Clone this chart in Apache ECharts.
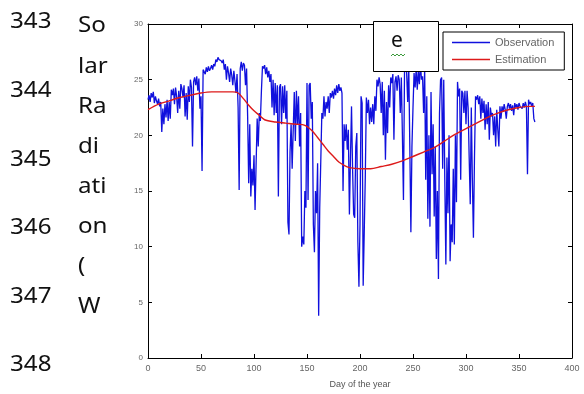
<!DOCTYPE html>
<html>
<head>
<meta charset="utf-8">
<script src="https://cdn.jsdelivr.net/npm/echarts@6/dist/echarts.min.js"></script>
<style>
  html, body { margin: 0; padding: 0; background: #fff; }
  #chart { width: 584px; height: 394px; }
</style>
</head>
<body>
<div id="chart"></div>
<script>
// daily observed solar radiation, index = day of the year (0..365)
const obsValues = [
  23.2, 23.6, 23.0, 23.8, 23.4, 23.9, 22.9, 23.5, 23.1, 22.8,
  23.3, 22.6, 23.0, 20.3, 22.4, 21.0, 22.8, 21.6, 23.2, 21.3,
  23.0, 21.5, 24.1, 23.6, 24.2, 22.8, 24.3, 23.5, 22.0, 24.0,
  22.4, 24.6, 24.2, 23.4, 24.5, 21.7, 23.8, 21.4, 24.4, 23.0,
  25.0, 24.3, 19.0, 24.8, 25.2, 24.5, 25.3, 24.0, 25.1, 22.4,
  23.5, 16.8, 25.9, 26.0, 25.5, 26.1, 25.7, 26.2, 25.8, 26.0,
  26.3, 25.9, 26.4, 26.2, 26.8, 26.6, 27.0, 26.8, 26.9, 26.7,
  26.5, 26.8, 25.9, 26.4, 25.0, 26.2, 25.6, 24.8, 26.0, 25.4,
  24.5, 25.8, 24.9, 23.8, 25.5, 22.5, 15.1, 26.0, 26.6, 25.8,
  26.5, 26.3, 24.5, 26.0, 21.7, 15.7, 21.0, 14.5, 17.0, 15.5,
  18.2, 13.3, 17.5, 21.5, 19.0, 22.0, 21.3, 24.0, 26.2, 26.0,
  26.3, 25.5, 26.1, 25.2, 25.8, 24.8, 25.5, 22.5, 25.0, 21.8,
  24.7, 22.0, 24.5, 14.5, 24.3, 24.6, 21.0, 24.4, 22.0, 24.5,
  21.5, 24.0, 12.2, 11.1, 18.5, 21.0, 17.0, 20.5, 23.9, 19.5,
  24.0, 21.0, 23.5, 19.0, 22.0, 10.0, 10.9, 10.2, 15.0, 13.5,
  24.7, 14.2, 24.5, 24.7, 21.5, 23.0, 12.0, 9.5, 15.0, 13.0,
  17.5, 3.8, 13.5, 17.7, 22.0, 21.5, 23.5, 21.7, 23.0, 22.4,
  23.5, 22.0, 23.8, 23.4, 24.0, 23.3, 24.2, 23.6, 24.5, 23.8,
  24.6, 24.0, 24.3, 23.8, 15.0, 21.0, 19.5, 21.0, 18.7, 20.5,
  12.9, 18.0, 22.6, 17.0, 12.9, 12.6, 19.0, 20.2, 10.4, 6.4,
  12.0, 23.5, 22.9, 6.5, 11.3, 16.3, 23.4, 22.0, 23.2, 21.0,
  22.5, 21.2, 22.8, 21.0, 23.5, 22.2, 25.0, 24.4, 25.2, 24.6,
  22.0, 24.8, 20.0, 24.0, 17.8, 23.0, 20.2, 24.5, 22.5, 25.2,
  24.7, 25.5, 19.6, 24.8, 25.3, 24.0, 25.4, 25.0, 22.0, 25.2,
  20.0, 14.2, 25.8, 26.5, 25.6, 23.0, 26.2, 19.0, 11.3, 19.0,
  22.5, 25.6, 24.3, 26.0, 24.1, 25.8, 24.6, 26.5, 25.0, 25.3,
  22.0, 26.0, 16.0, 23.5, 12.5, 20.0, 11.8, 23.9, 16.5, 21.0,
  12.7, 19.0, 8.9, 15.0, 7.1, 22.0, 25.0, 25.2, 17.0, 25.0,
  16.0, 8.4, 18.0, 13.0, 20.0, 8.7, 12.0, 10.4, 17.0, 10.2,
  20.0, 14.0, 24.8, 23.5, 24.2, 16.0, 24.0, 23.8, 22.0, 24.0,
  21.0, 24.0, 22.5, 18.0, 13.8, 22.5, 16.0, 10.8, 18.0, 23.5,
  23.2, 23.6, 22.8, 23.5, 21.5, 23.3, 22.0, 23.1, 20.5, 22.8,
  21.0, 23.0, 19.6, 22.5, 21.7, 22.0, 20.0, 21.7, 19.0, 22.3,
  20.5, 19.0, 22.6, 21.5, 22.6, 22.1, 22.8, 22.3, 21.5, 22.6,
  22.9, 22.4, 22.8, 22.2, 22.7, 21.8, 22.9, 22.5, 22.8, 22.3,
  22.9, 22.6, 22.7, 22.4, 22.9, 22.5, 23.0, 22.6, 16.5, 23.2,
  22.8, 23.0, 22.6, 22.9, 21.5, 21.2
];

// estimated curve
const estDays = [0, 10, 20, 30, 40, 50, 60, 70, 80, 85, 90, 95, 100, 105, 110, 120, 130, 140, 148, 155,
  160, 165, 170, 175, 180, 185, 190, 200, 210, 220, 230, 240, 250, 260, 270, 280, 290, 300, 310, 320,
  330, 340, 350, 360, 365];
const estValues = [22.3, 22.8, 23.1, 23.4, 23.6, 23.8, 23.9, 23.9, 23.9, 23.8, 23.3, 22.7, 22.2, 21.8, 21.4, 21.2, 21.1, 21.0, 20.9, 20.4,
  19.8, 19.2, 18.6, 18.1, 17.6, 17.3, 17.1, 17.0, 17.0, 17.2, 17.4, 17.7, 18.1, 18.5, 18.9, 19.5, 20.1, 20.6, 21.1, 21.6,
  22.0, 22.3, 22.5, 22.6, 22.6];

const lineNumbers = ['343', '344', '345', '346', '347', '348'];
const sideWords = ['So', 'lar', 'Ra', 'di', 'ati', 'on', '(', 'W'];

const obsColor = '#1010dd';
const estColor = '#dd1a1a';

const chart = echarts.init(document.getElementById('chart'));

const axisFont = { color: '#666', fontFamily: 'Liberation Sans', fontSize: 8 };
const frame = { onZero: false, lineStyle: { color: '#000', width: 1 } };
const ticks = { inside: true, length: 4, lineStyle: { color: '#000' } };

const graphics = [];
lineNumbers.forEach((t, i) => {
  graphics.push({ type: 'text', x: 10, y: 12 + i * 68.6, scaleX: 1.15,
    style: { text: t, font: '21px "Noto Sans"', fill: '#111' } });
});
sideWords.forEach((t, i) => {
  graphics.push({ type: 'text', x: 78, y: 16 + i * 40.1, scaleX: 1.15,
    style: { text: t, font: '21px "Noto Sans"', fill: '#111' } });
});
// the "e" label box
graphics.push({ type: 'rect', z: 100, shape: { x: 373.5, y: 21.5, width: 65, height: 50 },
  style: { fill: '#fff', stroke: '#000', lineWidth: 1 } });
graphics.push({ type: 'text', z: 101, x: 391, y: 31,
  style: { text: 'e', font: '21px "Noto Sans"', fill: '#111' } });
graphics.push({ type: 'polyline', z: 101,
  shape: { points: [[391, 56], [393, 54], [395, 56], [397, 54], [399, 56], [401, 54], [403, 56], [405, 54]] },
  style: { stroke: '#3a9a3a', lineWidth: 1, fill: null } });

chart.setOption({
  animation: false,
  backgroundColor: '#fff',
  grid: { left: 148, right: 12, top: 24, bottom: 35 },
  legend: {
    orient: 'vertical', left: 443, top: 32, z: 110,
    backgroundColor: '#fff', borderColor: '#000', borderWidth: 1, borderRadius: 0,
    padding: [5, 10, 5, 9], itemGap: 6, itemWidth: 38, itemHeight: 1.6,
    icon: 'rect',
    textStyle: { color: '#666', fontFamily: 'Liberation Sans', fontSize: 11 },
    data: ['Observation', 'Estimation']
  },
  xAxis: [{
    type: 'value', min: 0, max: 400, interval: 50,
    name: 'Day of the year', nameLocation: 'middle', nameGap: 22,
    nameTextStyle: { color: '#555', fontFamily: 'Liberation Sans', fontSize: 9 },
    axisLine: frame, axisTick: ticks,
    axisLabel: Object.assign({ margin: 6 }, axisFont, { fontSize: 9 }), splitLine: { show: false }
  }, {
    type: 'value', position: 'top', min: 0, max: 400, interval: 50,
    axisLine: frame, axisTick: ticks,
    axisLabel: { show: false }, splitLine: { show: false }
  }],
  yAxis: [{
    type: 'value', min: 0, max: 30, interval: 5,
    axisLine: frame, axisTick: ticks,
    axisLabel: Object.assign({ margin: 5 }, axisFont), splitLine: { show: false }
  }, {
    type: 'value', position: 'right', min: 0, max: 30, interval: 5,
    axisLine: frame, axisTick: ticks,
    axisLabel: { show: false }, splitLine: { show: false }
  }],
  series: [{
    name: 'Observation', type: 'line', symbol: 'none',
    data: obsValues.map((v, i) => [i, v]),
    lineStyle: { color: obsColor, width: 1.3 }, itemStyle: { color: obsColor }
  }, {
    name: 'Estimation', type: 'line', symbol: 'none', smooth: 0.3,
    data: estDays.map((d, i) => [d, estValues[i]]),
    lineStyle: { color: estColor, width: 1.4 }, itemStyle: { color: estColor }
  }],
  graphic: graphics
});
</script>
</body>
</html>
